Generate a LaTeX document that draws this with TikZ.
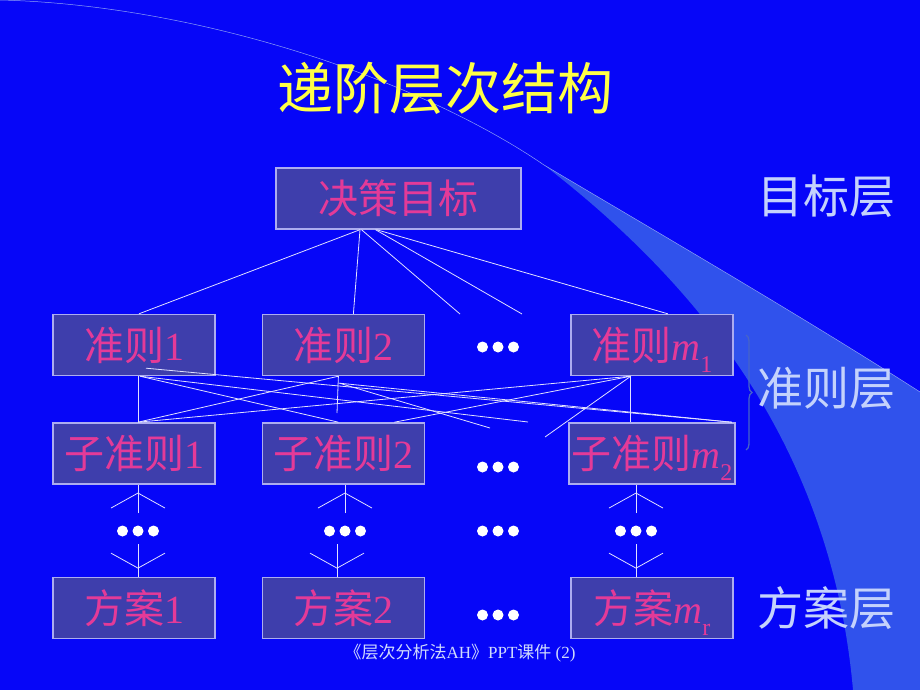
\documentclass[tikz,border=0pt]{standalone}
\usepackage{fontspec}
\setmainfont{Liberation Serif}
\newfontfamily\cjk{Noto Sans CJK SC}
\usepackage{tikz}
\usetikzlibrary{arrows.meta,positioning,calc,decorations.pathreplacing}
\definecolor{slide}{RGB}{6,6,248}
\definecolor{sheen}{RGB}{48,82,236}
\definecolor{cellfill}{RGB}{62,62,172}
\definecolor{cellrim}{RGB}{172,172,240}
\definecolor{rose}{RGB}{228,58,152}
\definecolor{wirecol}{RGB}{225,225,255}
\definecolor{gold}{RGB}{255,255,70}
\definecolor{frost}{RGB}{196,210,252}
\definecolor{bracecol}{RGB}{70,100,200}
\tikzstyle{cell} = [rectangle, draw=cellrim, line width=1.4pt, fill=cellfill,
    text=rose, minimum width=162pt, minimum height=61pt, inner sep=0pt,
    font=\fontsize{40}{42}\selectfont]
\tikzstyle{wire} = [draw=wirecol, line width=0.8pt]
\tikzstyle{tip} = [draw=wirecol, line width=0.8pt, -{Straight Barb[length=15pt, width=54pt]}]
\tikzstyle{layer} = [text=frost, font=\fontsize{46}{48}\selectfont\cjk]
\newcommand{\lowidx}[1]{\raisebox{-0.3em}[0pt][0pt]{\fontsize{24}{24}\selectfont #1}}

\begin{document}
\begin{tikzpicture}[x=1pt, y=-1pt, node distance=46pt]
        \useasboundingbox (0,0) rectangle (920,690);
        % Backdrop
        \fill[slide] (0,0) rectangle (920,690);
        \fill[sheen] (544,165) .. controls (650,228) and (800,315) .. (920,392)
            -- (920,690) -- (853,690) .. controls (830,430) and (680,270) .. (544,165);
        \draw[sheen!55!white, line width=0.5pt] (0,0) .. controls (200,5) and (420,80) .. (544,165)
            .. controls (650,228) and (800,315) .. (920,392);

        % Title
        \node[text=gold, font=\fontsize{56}{58}\selectfont\cjk] (title) at (445,88) {递阶层次结构};

        % Components
        \node [cell, minimum width=245pt] (goal) at (398.5,198.5) {{\cjk 决策目标}};
        \node [cell] (c1) at (134,345) {{\cjk 准则}1};
        \node [cell, right=of c1] (c2) {{\cjk 准则}2};
        \node [cell, right=145pt of c2] (cm) {{\cjk 准则}\textit{m}\lowidx{1}};
        \node [cell, below=of c1] (s1) {{\cjk 子准则}1};
        \node [cell, below=of c2] (s2) {{\cjk 子准则}2};
        \node [cell, below=of cm, minimum width=166pt] (sm) {{\cjk 子准则}\textit{m}\lowidx{2}};
        \node [cell, below=92pt of s1] (a1) {{\cjk 方案}1};
        \node [cell, below=92pt of s2] (a2) {{\cjk 方案}2};
        \node [cell, below=92pt of sm, minimum width=162pt] (am) {{\cjk 方案}\textit{m}\lowidx{r}};

        % Layer names
        \node[layer] (lvl1) at (826,196) {目标层};
        \node[layer] (lvl2) at (826,388) {准则层};
        \node[layer] (lvl3) at (826,608) {方案层};
        \draw[bracecol, line width=1.3pt, decorate, decoration={brace, amplitude=6pt}]
            (746,335) -- (746,450);

        % Free ends
        \coordinate (h1) at (460,314);
        \coordinate (h2) at (522,314);
        \coordinate (f1) at (528,422);
        \coordinate (f2) at (337,413);
        \coordinate (f3) at (490,428);
        \coordinate (f4) at (545,437);
        \coordinate (u1) at (138,513);
        \coordinate (w1) at (138,544);
        \coordinate (u2) at (345,513);
        \coordinate (w2) at (337,544);
        \coordinate (um) at (636,513);
        \coordinate (wm) at (636,544);

        % Dots
        \coordinate (r2) at (498,347);
        \coordinate (r3) at (498,467);
        \coordinate (r4) at (498,615);
        \coordinate (k1) at (138,531);
        \coordinate (k2) at (345,531);
        \coordinate (k3) at (498,531);
        \coordinate (km) at (636,531);
        \foreach \p in {r2,r3,r4,k1,k2,k3,km}
            \foreach \dx in {-15.5,0,15.5}
                \fill[white] ($(\p)+(\dx,0)$) circle (5.5pt);

        % Connections: goal to criteria
        \path [wire] ([xshift=-38.5pt]goal.south) -- ([xshift=5pt]c1.north);
        \path [wire] ([xshift=-38.5pt]goal.south) -- ([xshift=10pt]c2.north);
        \path [wire] ([xshift=-37pt]goal.south) -- (h1);
        \path [wire] ([xshift=-23pt]goal.south) -- (h2);
        \path [wire] ([xshift=-22pt]goal.south) -- ([xshift=16pt]cm.north);

        % Connections: criteria to sub-criteria
        \path [wire] ([xshift=4pt]c1.south) -- ([xshift=4pt]s1.north);
        \path [wire] ([xshift=6pt]c1.south) -- ([xshift=-5pt]s2.north);
        \path [wire] ([xshift=6pt]c1.south) -- (f1);
        \path [wire] ([xshift=12pt, yshift=8pt]c1.south) -- ([xshift=80pt]sm.north);
        \path [wire] ([xshift=4pt]s1.north) -- ([xshift=-5pt]c2.south);
        \path [wire] ([xshift=-5pt]c2.south) -- (f2);
        \path [wire] ([xshift=-4pt, yshift=-7pt]c2.south) -- ([xshift=80pt]sm.north);
        \path [wire] ([xshift=-4pt, yshift=-7pt]c2.south) -- (f3);
        \path [wire] ([xshift=-21pt]cm.south) -- ([xshift=4pt]s1.north);
        \path [wire] ([xshift=-21pt]cm.south) -- ([xshift=51pt]s2.north);
        \path [wire] ([xshift=-21pt]cm.south) -- ([xshift=-21pt]sm.north);
        \path [wire] ([xshift=-21pt]cm.south) -- (f4);

        % Connections: sub-criteria to alternatives
        \path [wire] (u1) -- (u1 |- s1.south);
        \path [tip] (u1) -- ([yshift=-8pt]u1 |- s1.south);
        \path [wire] (w1) -- (w1 |- a1.north);
        \path [tip] (w1) -- ([yshift=8pt]w1 |- a1.north);
        \path [wire] (u2) -- (u2 |- s2.south);
        \path [tip] (u2) -- ([yshift=-8pt]u2 |- s2.south);
        \path [wire] (w2) -- (w2 |- a2.north);
        \path [tip] (w2) -- ([yshift=8pt]w2 |- a2.north);
        \path [wire] (um) -- (um |- sm.south);
        \path [tip] (um) -- ([yshift=-8pt]um |- sm.south);
        \path [wire] (wm) -- (wm |- am.north);
        \path [tip] (wm) -- ([yshift=8pt]wm |- am.north);

        % Footer
        \node[text=frost!80!white, font=\fontsize{17}{19}\selectfont] (foot) at (460,653)
            {{\cjk 《层次分析法}AH{\cjk 》}PPT{\cjk 课件} (2)};
\end{tikzpicture}
\end{document}
